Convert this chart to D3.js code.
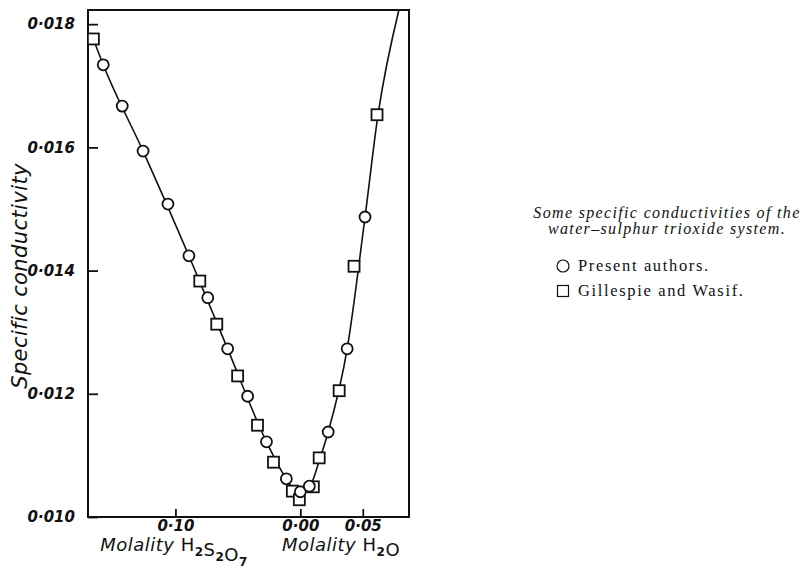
<!DOCTYPE html>
<html>
<head>
<meta charset="utf-8">
<script src="https://cdn.jsdelivr.net/npm/d3@7"></script>
<style>
  body { margin: 0; background: #fff; }
  svg { display: block; }
  .tick text { font-family: "DejaVu Sans", sans-serif; font-style: oblique; font-weight: bold; font-size: 15px; fill: #111; }
  .tick line { stroke: #111; stroke-width: 1.8; }
</style>
</head>
<body>
<div id="chart"></div>
<script>
// x: negative = molality H2S2O7, positive = molality H2O
const presentX = [-0.1578, -0.1426, -0.1259, -0.1060, -0.0892, -0.0741, -0.0582, -0.0422, -0.0271, -0.0112, 0.0000, 0.0072, 0.0223, 0.0375, 0.0518]
const presentY = [0.01734, 0.01667, 0.01594, 0.01508, 0.01424, 0.01356, 0.01273, 0.01196, 0.01122, 0.01062, 0.01041, 0.01050, 0.01138, 0.01273, 0.01487]

const gillespieX = [-0.1657, -0.0805, -0.0669, -0.0502, -0.0343, -0.0215, -0.0064, -0.0008, 0.0104, 0.0151, 0.0311, 0.0430, 0.0614]
const gillespieY = [0.01776, 0.01383, 0.01313, 0.01229, 0.01149, 0.01089, 0.01042, 0.01028, 0.01049, 0.01096, 0.01205, 0.01407, 0.01653]

// the drawn curve
const curveX = [-0.1657, -0.1578, -0.1259, -0.0892, -0.0582, -0.0271, -0.0112, -0.0032, 0.0032, 0.0088, 0.0151, 0.0223, 0.0375, 0.0518, 0.0622, 0.0789]
const curveY = [0.01776, 0.01734, 0.01594, 0.01424, 0.01273, 0.01122, 0.01062, 0.01042, 0.01042, 0.01054, 0.01091, 0.01138, 0.01273, 0.01487, 0.01653, 0.01823]

const xTicks = [-0.10, 0.00, 0.05]
const yTicks = [0.010, 0.012, 0.014, 0.016, 0.018]

const caption = ["Some specific conductivities of the", "water\u2013sulphur trioxide system."]
const legendNames = ["Present authors.", "Gillespie and Wasif."]

const W = 802, H = 573
const MARGIN = {LEFT: 88, RIGHT: 393, TOP: 10, BOTTOM: 56}

const svg = d3.select("#chart").append("svg")
    .attr("width", W)
    .attr("height", H)

const x = d3.scaleLinear()
    .domain([-0.170, 0.087])
    .range([MARGIN.LEFT, W - MARGIN.RIGHT])

const y = d3.scaleLinear()
    .domain([0.010, 0.01823])
    .range([H - MARGIN.BOTTOM, MARGIN.TOP])

// axes, ticks pointing inwards
const xAxis = d3.axisBottom(x)
    .tickValues(xTicks)
    .tickSize(-8)
    .tickPadding(3)
    .tickFormat(d => Math.abs(d).toFixed(2).replace(".", "\u00b7"))

const yAxis = d3.axisLeft(y)
    .tickValues(yTicks)
    .tickSize(-10)
    .tickPadding(13)
    .tickFormat(d => d.toFixed(3).replace(".", "\u00b7"))

svg.append("g")
    .attr("transform", `translate(0,${H - MARGIN.BOTTOM})`)
    .call(xAxis)
    .call(g => g.select(".domain").remove())

svg.append("g")
    .attr("transform", `translate(${MARGIN.LEFT},0)`)
    .call(yAxis)
    .call(g => g.select(".domain").remove())

// frame
svg.append("rect")
    .attr("x", x.range()[0])
    .attr("y", y.range()[1])
    .attr("width", x.range()[1] - x.range()[0])
    .attr("height", y.range()[0] - y.range()[1])
    .attr("fill", "none")
    .attr("stroke", "#111")
    .attr("stroke-width", 2)

// curve
const line = d3.line()
    .x(d => x(d[0]))
    .y(d => y(d[1]))
    .curve(d3.curveMonotoneX)

svg.append("path")
    .datum(d3.zip(curveX, curveY))
    .attr("d", line)
    .attr("fill", "none")
    .attr("stroke", "#111")
    .attr("stroke-width", 1.6)

// markers
const SQ = 11
svg.append("g").selectAll("rect")
    .data(d3.zip(gillespieX, gillespieY)).enter()
    .append("rect")
    .attr("x", d => x(d[0]) - SQ / 2)
    .attr("y", d => y(d[1]) - SQ / 2)
    .attr("width", SQ)
    .attr("height", SQ)
    .attr("fill", "#fff")
    .attr("stroke", "#111")
    .attr("stroke-width", 1.8)

svg.append("g").selectAll("circle")
    .data(d3.zip(presentX, presentY)).enter()
    .append("circle")
    .attr("cx", d => x(d[0]))
    .attr("cy", d => y(d[1]))
    .attr("r", 5.5)
    .attr("fill", "#fff")
    .attr("stroke", "#111")
    .attr("stroke-width", 1.8)

// axis titles
const hand = "'DejaVu Sans', sans-serif"

svg.append("text")
    .attr("transform", "translate(27,276) rotate(-90)")
    .attr("text-anchor", "middle")
    .attr("font-family", hand)
    .attr("font-style", "oblique")
    .attr("font-size", 21)
    .attr("letter-spacing", 0.4)
    .attr("fill", "#111")
    .text("Specific conductivity")

function molality(xc, parts) {
  const t = svg.append("text")
      .attr("x", xc)
      .attr("y", 551)
      .attr("text-anchor", "middle")
      .attr("font-family", hand)
      .attr("font-size", 18)
      .attr("letter-spacing", 0.5)
      .attr("fill", "#111")
  t.append("tspan").attr("font-style", "oblique").text("Molality ")
  parts.forEach(p => {
    t.append("tspan").text(p[0])
    if (p[1]) {
      t.append("tspan").attr("dy", 5).attr("font-size", 12).attr("font-weight", "bold").text(p[1])
      t.append("tspan").attr("dy", -5).text("")
    }
  })
}
molality(174, [["H", "2"], ["S", "2"], ["O", "7"]])
molality(341, [["H", "2"], ["O", ""]])

// caption and legend
const serif = "'Liberation Serif', 'DejaVu Serif', serif"
svg.append("g").selectAll("text")
    .data(caption).enter()
    .append("text")
    .attr("x", 667)
    .attr("y", (d, i) => 218 + i * 16)
    .attr("text-anchor", "middle")
    .attr("font-family", serif)
    .attr("font-style", "italic")
    .attr("font-size", 16)
    .attr("letter-spacing", 1.34)
    .attr("fill", "#111")
    .text(d => d)

const lg = svg.append("g").selectAll("g")
    .data(legendNames).enter()
    .append("g")
    .attr("transform", (d, i) => `translate(563,${266 + i * 25})`)

lg.filter((d, i) => i === 0).append("circle")
    .attr("r", 6)
    .attr("fill", "none")
    .attr("stroke", "#111")
    .attr("stroke-width", 1.2)
lg.filter((d, i) => i === 1).append("rect")
    .attr("x", -5.5).attr("y", -5.5)
    .attr("width", 11).attr("height", 11)
    .attr("fill", "none")
    .attr("stroke", "#111")
    .attr("stroke-width", 1.2)

lg.append("text")
    .attr("x", 15)
    .attr("y", 5)
    .attr("font-family", serif)
    .attr("font-size", 16.5)
    .attr("letter-spacing", 1.65)
    .attr("fill", "#111")
    .text(d => d)
</script>
</body>
</html>
